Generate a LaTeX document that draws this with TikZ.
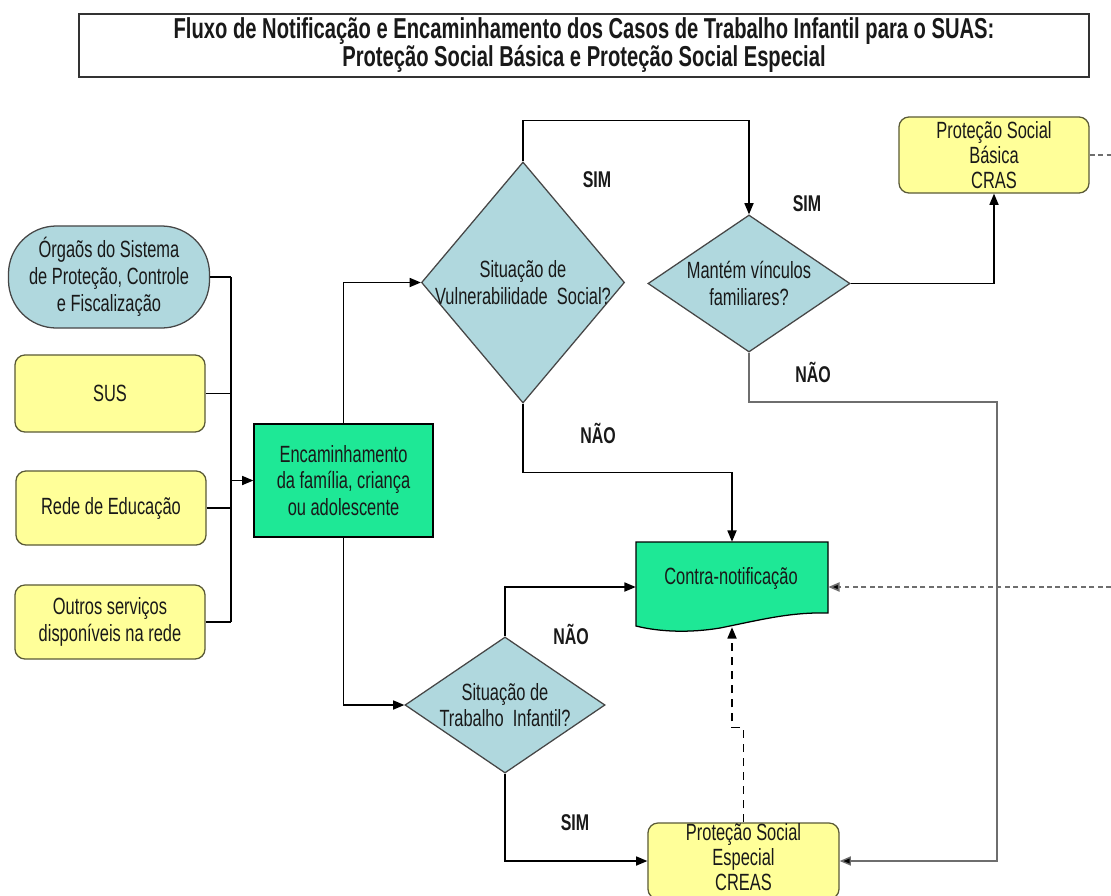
\documentclass[tikz,border=0pt]{standalone}
\usepackage{fontspec}
\setmainfont{Liberation Sans}[FakeStretch=0.70]
\usetikzlibrary{arrows.meta,calc,shapes.geometric}
\definecolor{ylw}{RGB}{255,255,153}
\definecolor{ylwd}{RGB}{90,90,55}
\definecolor{blu}{RGB}{176,216,222}
\definecolor{grn}{RGB}{30,232,150}
\definecolor{dgray}{RGB}{70,70,70}
\definecolor{lgray}{RGB}{110,110,110}
\begin{document}
\begin{tikzpicture}[x=0.025cm,y=-0.025cm,
  every node/.style={text=black!90},
  btxt/.style={font=\fontsize{16.7}{19}\selectfont, align=center},
  ybox/.style={btxt, draw=ylwd, fill=ylw, rounded corners=0.25cm, line width=0.9pt, inner sep=0pt},
  gbox/.style={btxt, draw=black, fill=grn, line width=0.9pt, inner sep=0pt},
  dia/.style={diamond, draw=dgray, fill=blu, line width=0.9pt, inner sep=0pt},
  lbl/.style={font=\fontsize{16.2}{18}\selectfont\bfseries},
  conn/.style={line width=0.9pt, draw=black},
  arr/.style={conn, -{Triangle[length=8pt,width=6.5pt]}},
  garr/.style={line width=1pt, draw=lgray, -{Triangle[length=8pt,width=6.5pt,fill=black]}},
  dotl/.style={line width=1.2pt, draw=lgray, dash pattern=on 3.5pt off 2.5pt},
  dashl/.style={line width=0.9pt, draw=black, dash pattern=on 6pt off 4pt}
]
\useasboundingbox (0,0) rectangle (1111,895);
\fill[white] (0,0) rectangle (1111,895);

% title
\node[draw=black!80, line width=1pt, minimum width=25.25cm, minimum height=1.575cm, inner sep=0] (tbox) at (584,45.5) {};
\node[font=\fontsize{20.5}{19.8}\selectfont\bfseries, align=center] (title) at (584,45)
  {Fluxo de Notificação e Encaminhamento dos Casos de Trabalho Infantil para o SUAS:\\Proteção Social Básica e Proteção Social Especial};

% left sources
\node[btxt, draw=dgray, fill=blu, line width=0.9pt, rounded corners=1.2cm, minimum width=5.025cm, minimum height=2.55cm, inner sep=0] (org) at (109,277)
  {Órgaõs do Sistema\\de Proteção, Controle\\e Fiscalização};
\node[ybox, minimum width=4.75cm, minimum height=1.925cm] (sus) at (110,393.5) {SUS};
\node[ybox, minimum width=4.75cm, minimum height=1.85cm] (rede) at (111,508) {Rede de Educação};
\node[ybox, minimum width=4.75cm, minimum height=1.85cm] (outros) at (110,622) {Outros serviços\\disponíveis na rede};

\node[gbox, minimum width=4.475cm, minimum height=2.825cm] (enc) at (343.5,480.5)
  {Encaminhamento\\da família, criança\\ou adolescente};

% diamonds
\node[dia, minimum width=5.075cm, minimum height=6.025cm] (vul) at (523,282.5) {};
\node[btxt] at (vul) {Situação de\\Vulnerabilidade\ \ Social?};
\node[dia, minimum width=5.05cm, minimum height=3.425cm] (man) at (749,283.5) {};
\node[btxt] at (man) {Mantém vínculos\\familiares?};
\node[dia, minimum width=5cm, minimum height=3.4cm] (tra) at (505,705) {};
\node[btxt] at (tra) {Situação de\\Trabalho\ \ Infantil?};

% right boxes
\node[ybox, font=\fontsize{16.7}{18}\selectfont, minimum width=4.75cm, minimum height=1.9cm] (cras) at (994,155) {Proteção Social\\Básica\\CRAS};
\node[ybox, minimum width=4.775cm, minimum height=1.9cm] (cre) at (743.5,861) {};
\node[btxt, font=\fontsize{16.7}{18}\selectfont] at (743.5,857) {Proteção Social\\Especial\\CREAS};

% contra-notificacao (document shape)
\path[draw=black, fill=grn, line width=0.9pt] (636,542) -- (828,542) -- (828,613)
  .. controls (790,612) and (760,620) .. (720,628)
  .. controls (690,633) and (660,632) .. (636,626) -- cycle;
\node[minimum width=4.8cm, minimum height=2.25cm, inner sep=0] (contra) at (732,587) {};
\node[btxt] at (731,578) {Contra-notificação};

% sources to encaminhamento
\coordinate (bus) at (231,480.5);
\draw[conn] (org.east) -- (org.east -| bus);
\draw[conn] (sus.east) -- (sus.east -| bus);
\draw[conn] (rede.east) -- (rede.east -| bus);
\draw[conn] (outros.east) -- (outros.east -| bus);
\draw[conn] (org.east -| bus) -- (outros.east -| bus);
\draw[arr] (bus) -- (enc.west);

% encaminhamento to diamonds
\draw[arr] (enc.north) |- (vul.west);
\draw[arr] (enc.south) |- (tra.west);

% vulnerabilidade
\draw[arr] (vul.north) -- ++(0,-41) -| (man.north);
\draw[arr] (vul.south) -- ++(0,69) -| (contra.north);

% mantem
\draw[arr] (man.east) -| (cras.south);
\coordinate (r1) at (997,402);
\draw[garr] (man.south) |- (r1) |- (cre.east);

% trabalho
\draw[arr] (tra.north) |- (contra.west);
\draw[arr] (tra.south) |- (cre.west);

% dashed feedback
\draw[dashl, -{Triangle[length=8pt,width=6.5pt]}] (cre.north) -- ++(0,-95) -| ($(contra.south)+(0,-5)$);
\coordinate (edge1) at (1111,155);
\coordinate (edge2) at (1111,587);
\draw[dotl] (cras.east) -- (edge1);
\draw[dotl, -{Triangle[length=8pt,width=6.5pt,fill=black]}] (edge2) -- (contra.east);

% labels
\node[lbl] (s1) at (597,180) {SIM};
\node[lbl] (s2) at (807,204) {SIM};
\node[lbl] (n1) at (813,372) {NÃO};
\node[lbl] (n2) at (598,433) {NÃO};
\node[lbl] (n3) at (571,634) {NÃO};
\node[lbl] (s3) at (575,823) {SIM};
\end{tikzpicture}
\end{document}
